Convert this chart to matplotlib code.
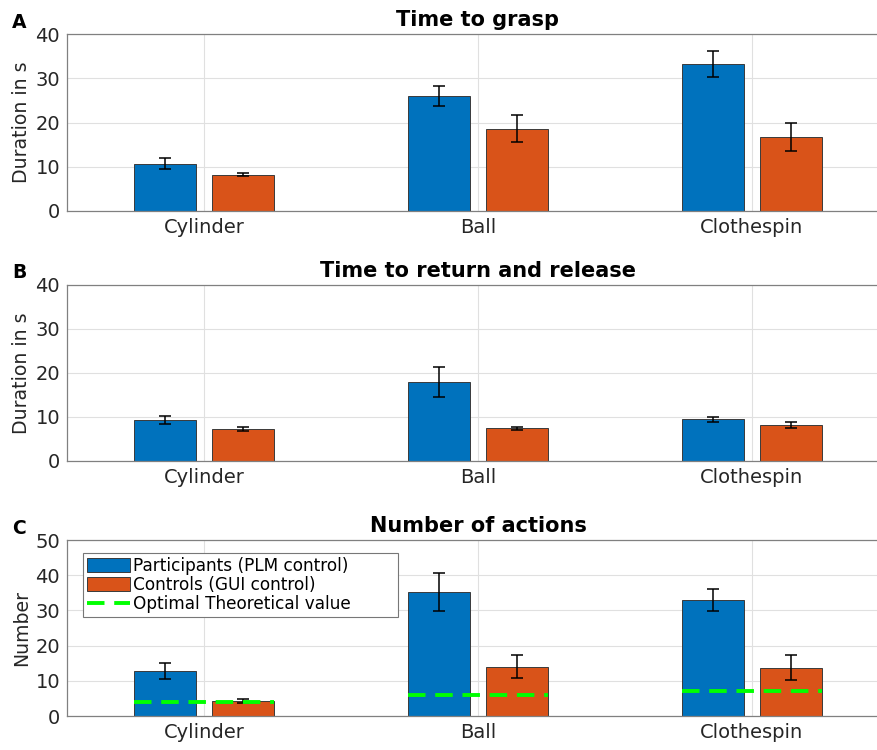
import numpy as np
import matplotlib.pyplot as plt

# data
objects = ["Cylinder", "Ball", "Clothespin"]

grasp_plm = [10.7, 26.0, 33.2]
grasp_plm_err = [1.3, 2.3, 3.0]
grasp_gui = [8.2, 18.6, 16.8]
grasp_gui_err = [0.3, 3.1, 3.2]

release_plm = [9.3, 18.0, 9.5]
release_plm_err = [1.0, 3.4, 0.6]
release_gui = [7.3, 7.4, 8.2]
release_gui_err = [0.4, 0.3, 0.6]

actions_plm = [12.8, 35.2, 32.9]
actions_plm_err = [2.3, 5.5, 3.2]
actions_gui = [4.2, 14.0, 13.7]
actions_gui_err = [0.6, 3.3, 3.6]
actions_optimal = [4, 6, 7]

blue = "#0072BD"
orange = "#D95319"
green = "#00FF00"

plt.rcParams['font.family'] = ['DejaVu Sans']

fig = plt.figure(figsize=(8.78, 7.5), dpi=100)
W, H = 878, 750

def make_ax(top, bottom):
    return fig.add_axes([67 / W, 1 - bottom / H, (889 - 67) / W, (bottom - top) / H])

panels = [
    ("A", "Time to grasp", "Duration in s", 40, grasp_plm, grasp_plm_err, grasp_gui, grasp_gui_err, 34, 211),
    ("B", "Time to return and release", "Duration in s", 40, release_plm, release_plm_err, release_gui, release_gui_err, 285, 461),
    ("C", "Number of actions", "Number", 50, actions_plm, actions_plm_err, actions_gui, actions_gui_err, 540, 716),
]

x = np.arange(1, len(objects) + 1)
w = 0.228
off = 0.143

for label, title, ylabel, ymax, plm, plm_err, gui, gui_err, top, bottom in panels:
    ax = make_ax(top, bottom)
    ax.set_axisbelow(True)
    b1 = ax.bar(x - off, plm, w, color=blue, edgecolor="#3a3a3a", linewidth=0.7)
    b2 = ax.bar(x + off, gui, w, color=orange, edgecolor="#3a3a3a", linewidth=0.7)
    ax.errorbar(x - off, plm, yerr=plm_err, fmt="none", ecolor="black", elinewidth=1.1, capsize=4, capthick=1.1)
    ax.errorbar(x + off, gui, yerr=gui_err, fmt="none", ecolor="black", elinewidth=1.1, capsize=4, capthick=1.1)

    if label == "C":
        for i, v in enumerate(actions_optimal):
            ln, = ax.plot([x[i] - off - w / 2, x[i] + off + w / 2], [v, v], color=green,
                          linestyle=(0, (4.5, 2.5)), linewidth=2.8)
        leg = ax.legend([b1, b2, ln],
                        ["Participants (PLM control)", "Controls (GUI control)", "Optimal Theoretical value"],
                        loc="upper left", bbox_to_anchor=(0.0195, 0.5, 0.383, 0.426), mode="expand",
                        fontsize=12.2, frameon=True, fancybox=False, edgecolor="#777777", framealpha=1,
                        handlelength=2.5, handleheight=0.9, borderpad=0.25,
                        labelspacing=0.05, handletextpad=0.2, borderaxespad=0)
        leg.get_frame().set_linewidth(0.8)

    ax.set_xlim(0.5, 3.5)
    ax.set_ylim(0, ymax)
    ax.set_yticks(np.arange(0, ymax + 1, 10))
    ax.set_xticks(x)
    ax.set_xticklabels(objects)
    ax.grid(True, color="#e0e0e0", linewidth=0.8)
    ax.tick_params(labelsize=14, colors="#262626", length=0, pad=5)
    for s in ax.spines.values():
        s.set_color("#808080")
        s.set_linewidth(0.9)
    ax.spines["right"].set_visible(False)
    ax.set_ylabel(ylabel, fontsize=13.6, color="#262626", labelpad=3)
    ax.set_title(title, fontsize=15, fontweight="bold", pad=6)
    fig.text(12 / W, 1 - (top - 12) / H, label, fontsize=13.5, fontweight="bold", va="center", ha="left")

fig.savefig("out.png", dpi=100)
